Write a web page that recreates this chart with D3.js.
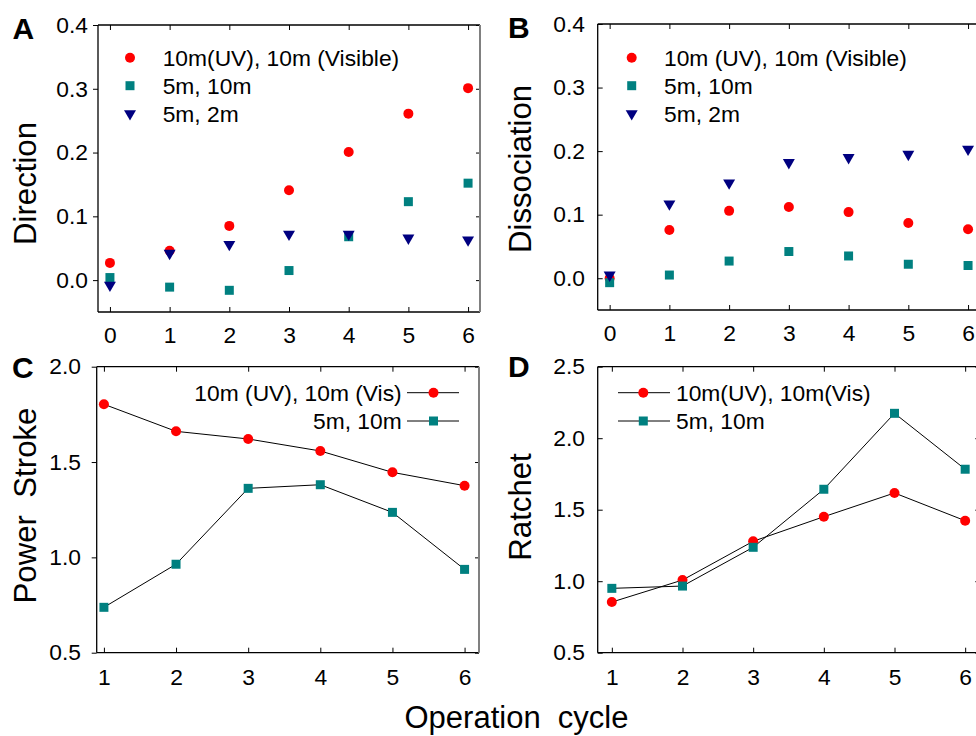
<!DOCTYPE html>
<html><head><meta charset="utf-8">
<script src="https://cdn.jsdelivr.net/npm/d3@7"></script>
<style>
html,body{margin:0;padding:0;background:#fff;}
svg text{font-family:"Liberation Sans",Arial,sans-serif;}
</style></head>
<body>
<svg id="c" width="976" height="736"></svg>
<script>
// ---- data ----
const cyclesAB = [0,1,2,3,4,5,6];
const cyclesCD = [1,2,3,4,5,6];
const dirRed   = [0.027,0.046,0.085,0.141,0.201,0.261,0.301];
const dirTeal  = [0.004,-0.011,-0.016,0.015,0.068,0.123,0.152];
const dirNavy  = [-0.008,0.042,0.056,0.072,0.072,0.066,0.063];
const disRed   = [0.000,0.076,0.106,0.112,0.104,0.087,0.077];
const disTeal  = [-0.007,0.005,0.027,0.042,0.035,0.022,0.020];
const disNavy  = [0.005,0.117,0.150,0.182,0.190,0.195,0.203];
const psRed    = [1.803,1.661,1.621,1.558,1.446,1.376];
const psTeal   = [0.738,0.964,1.362,1.381,1.236,0.937];
const raRed    = [0.854,1.008,1.279,1.451,1.617,1.423];
const raTeal   = [0.950,0.966,1.237,1.643,2.174,1.783];
const ticksAB_y = [0.0,0.1,0.2,0.3,0.4];
const ticksC_y  = [0.5,1.0,1.5,2.0];
const ticksD_y  = [0.5,1.0,1.5,2.0,2.5];
const legendAB = ["10m(UV), 10m (Visible)","5m, 10m","5m, 2m"];
const legendB0 = "10m (UV), 10m (Visible)";
const legendC  = ["10m (UV), 10m (Vis)","5m, 10m"];
const legendD  = ["10m(UV), 10m(Vis)","5m, 10m"];

const RED="#ff0000", TEAL="#008080", NAVY="#000080";
const FS=22.8, TFS=31.2;
const svg = d3.select("#c");

const symCircle = d3.symbol().type(d3.symbolCircle).size(Math.PI*25);
const symSquare = d3.symbol().type(d3.symbolSquare).size(81);
const symTri    = d3.symbol().type(d3.symbolTriangle).size(62);

function marker(g, kind, x, y){
  if(kind==="c") g.append("path").attr("d",symCircle()).attr("fill",RED).attr("transform",`translate(${x},${y})`);
  else if(kind==="s") g.append("path").attr("d",symSquare()).attr("fill",TEAL).attr("transform",`translate(${x},${y})`);
  else g.append("path").attr("d",symTri()).attr("fill",NAVY).attr("transform",`translate(${x},${y}) rotate(180)`);
}

function panel(o){
  const x = d3.scaleLinear().domain(o.xd).range(o.xr);
  const y = d3.scaleLinear().domain(o.yd).range(o.yr);
  const g = svg.append("g");
  const [x0,x1]=o.xr, [yb,yt]=o.yr;
  const bottom = g.append("g").attr("transform",`translate(0,${yb})`)
    .call(d3.axisBottom(x).tickValues(o.xt).tickSizeInner(-5).tickSizeOuter(0).tickPadding(15).tickFormat(d3.format("d")));
  const top = g.append("g").attr("transform",`translate(0,${yt})`)
    .call(d3.axisTop(x).tickValues(o.xt).tickSizeInner(-5).tickSizeOuter(0).tickFormat(""));
  const left = g.append("g").attr("transform",`translate(${x0},0)`)
    .call(d3.axisLeft(y).tickValues(o.yt).tickSizeInner(o.leftOut?5:-5).tickSizeOuter(0).tickPadding(o.lpad).tickFormat(d3.format(".1f")));
  const right = g.append("g").attr("transform",`translate(${x1},0)`)
    .call(d3.axisRight(y).tickValues(o.yt).tickSizeInner(-4).tickSizeOuter(0).tickFormat(""));
  [bottom,top,left,right].forEach(a=>{
    a.select(".domain").remove();
    a.selectAll("line").attr("stroke","#000").attr("stroke-width",1);
    a.selectAll("text").attr("font-size",FS).attr("fill","#000")
      .attr("font-family",'"Liberation Sans",Arial,sans-serif');
  });
  bottom.selectAll("text").attr("dy",null).attr("y",o.xlabBase-yb);
  g.append("line").attr("x1",x0).attr("x2",x0).attr("y1",yt).attr("y2",yb).attr("stroke","#000").attr("stroke-width",1.3);
  g.append("line").attr("x1",x0).attr("x2",x1).attr("y1",yt).attr("y2",yt).attr("stroke","#000").attr("stroke-width",1.3);
  g.append("line").attr("x1",x0).attr("x2",x1).attr("y1",yb).attr("y2",yb).attr("stroke","#000").attr("stroke-width",1.3);
  g.append("line").attr("x1",x1).attr("x2",x1).attr("y1",yt).attr("y2",yb).attr("stroke","#808080").attr("stroke-width",2);
  g.append("text").attr("transform",`translate(${o.titleX},${o.titleY}) rotate(-90)`)
    .attr("text-anchor","middle").attr("font-size",TFS).attr("fill","#000").style("white-space","pre").text(o.title);
  g.append("text").attr("x",o.lx).attr("y",o.ly).attr("font-size",30).attr("font-weight","bold").attr("fill","#000").text(o.letter);
  o.series.forEach(s=>{
    if(o.lines){
      g.append("path").datum(s.v).attr("fill","none").attr("stroke","#000").attr("stroke-width",1)
        .attr("d",d3.line().x((d,i)=>x(o.xv[i])).y(d=>y(d)));
    }
  });
  o.series.forEach(s=>{
    s.v.forEach((d,i)=>marker(g,s.k,x(o.xv[i]),y(d)));
  });
  return g;
}

const gA = panel({xd:[-0.2,6.2],xr:[98,480],yd:[-0.05,0.4],yr:[312,25],xt:cyclesAB,yt:ticksAB_y,xv:cyclesAB,
  leftOut:true,lpad:5,xlabBase:343,title:"Direction",titleX:35.5,titleY:183.5,letter:"A",lx:12.5,ly:38.5,
  series:[{k:"c",v:dirRed},{k:"s",v:dirTeal},{k:"t",v:dirNavy}]});
const gB = panel({xd:[-0.2,6.2],xr:[597.7,980],yd:[-0.05,0.4],yr:[310,24],xt:cyclesAB,yt:ticksAB_y,xv:cyclesAB,
  leftOut:false,lpad:12.7,xlabBase:341,title:"Dissociation",titleX:531,titleY:169,letter:"B",lx:508,ly:37.5,
  series:[{k:"c",v:disRed},{k:"s",v:disTeal},{k:"t",v:disNavy}]});
const gC = panel({xd:[0.9,6.2],xr:[96.7,479],yd:[0.5,2.0],yr:[652.7,366.7],xt:cyclesCD,yt:ticksC_y,xv:cyclesCD,
  leftOut:true,lpad:10.7,xlabBase:685,title:"Power  Stroke",titleX:35.5,titleY:505.5,letter:"C",lx:12,ly:378,lines:true,
  series:[{k:"c",v:psRed},{k:"s",v:psTeal}]});
const gD = panel({xd:[0.8,6.2],xr:[597.7,979.3],yd:[0.5,2.5],yr:[652.7,366.7],xt:cyclesCD,yt:ticksD_y,xv:cyclesCD,
  leftOut:false,lpad:12.7,xlabBase:685,title:"Ratchet",titleX:531,titleY:507,letter:"D",lx:508,ly:377,lines:true,
  series:[{k:"c",v:raRed},{k:"s",v:raTeal}]});

const kinds=["c","s","t"], rowsAB=[57.7,85.7,113.7];
legendAB.forEach((t,i)=>{
  marker(gA,kinds[i],130,rowsAB[i]);
  gA.append("text").attr("x",162.7).attr("y",rowsAB[i]).attr("dy","0.36em").attr("font-size",FS).attr("fill","#000").text(t);
  marker(gB,kinds[i],631.7,rowsAB[i]);
  gB.append("text").attr("x",664).attr("y",rowsAB[i]).attr("dy","0.36em").attr("font-size",FS).attr("fill","#000").text(i===0?legendB0:t);
});
const rowsCD=[392.7,421];
legendC.forEach((t,i)=>{
  gC.append("line").attr("x1",407).attr("x2",459).attr("y1",rowsCD[i]).attr("y2",rowsCD[i]).attr("stroke","#000").attr("stroke-width",1);
  marker(gC,kinds[i],433.5,rowsCD[i]);
  gC.append("text").attr("x",401.7).attr("y",rowsCD[i]).attr("dy","0.36em").attr("text-anchor","end").attr("font-size",FS).attr("fill","#000").text(t);
});
legendD.forEach((t,i)=>{
  gD.append("line").attr("x1",618).attr("x2",670).attr("y1",rowsCD[i]).attr("y2",rowsCD[i]).attr("stroke","#000").attr("stroke-width",1);
  marker(gD,kinds[i],643.3,rowsCD[i]);
  gD.append("text").attr("x",676).attr("y",rowsCD[i]).attr("dy","0.36em").attr("font-size",FS).attr("fill","#000").text(t);
});

svg.append("text").attr("x",516.5).attr("y",728).attr("text-anchor","middle").attr("font-size",31)
  .attr("fill","#000").style("white-space","pre").text("Operation  cycle");
</script>
</body></html>
